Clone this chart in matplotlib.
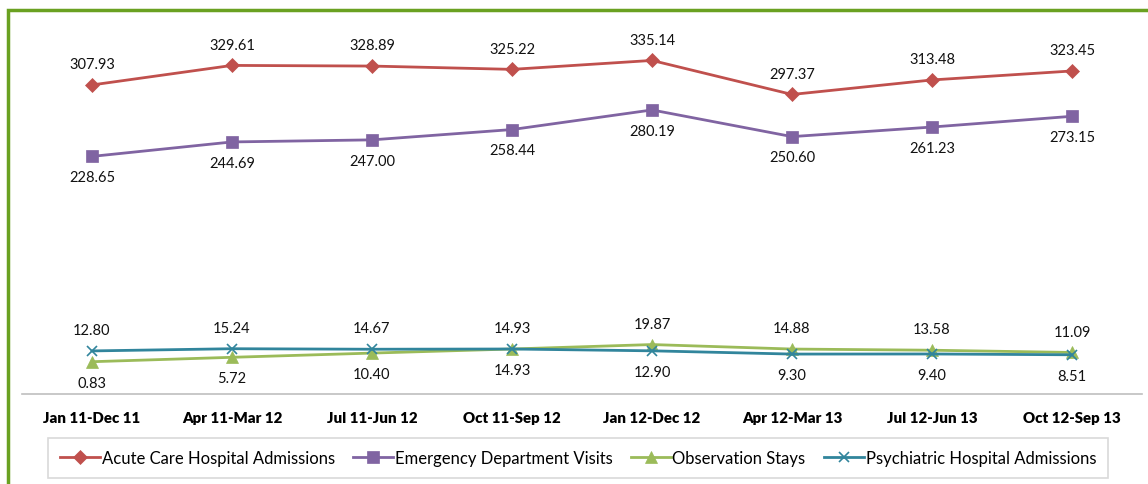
import matplotlib
matplotlib.use("Agg")
from matplotlib import pyplot as plt
from matplotlib.patches import Rectangle
import numpy as np

periods = ["Jan 11-Dec 11", "Apr 11-Mar 12", "Jul 11-Jun 12", "Oct 11-Sep 12",
           "Jan 12-Dec 12", "Apr 12-Mar 13", "Jul 12-Jun 13", "Oct 12-Sep 13"]
acute = [307.93, 329.61, 328.89, 325.22, 335.14, 297.37, 313.48, 323.45]
emergency = [228.65, 244.69, 247.00, 258.44, 280.19, 250.60, 261.23, 273.15]
observation = [0.83, 5.72, 10.40, 14.93, 19.87, 14.88, 13.58, 11.09]
psychiatric = [12.80, 15.24, 14.67, 14.93, 12.90, 9.30, 9.40, 8.51]

plt.rcParams['font.family'] = ['Lato', 'DejaVu Sans']

fig = plt.figure(figsize=(11.48, 4.85), dpi=100)
ax = fig.add_axes([22/1148, 90/485, 1120/1148, 374/485])

x = np.arange(len(periods))
series = [
    ("Acute Care Hospital Admissions", acute, "#C0504D", "D", 7),
    ("Emergency Department Visits", emergency, "#8064A2", "s", 8),
    ("Observation Stays", observation, "#9BBB59", "^", 8),
    ("Psychiatric Hospital Admissions", psychiatric, "#31859C", "x", 7),
]
for name, vals, color, marker, ms in series:
    ax.plot(x, vals, color=color, lw=2, marker=marker, ms=ms,
            mew=1.2 if marker == "x" else 0.5, mec=color, label=name)

def label(xi, v, above):
    ax.annotate(f"{v:.2f}", (xi, v), xytext=(0, 15 if above else -15),
                textcoords="offset points", ha="center", va="center",
                fontsize=10.5, color="#111111")

for i in x:
    label(i, acute[i], True)
    label(i, emergency[i], False)
    # of the two small series, the higher one gets its label on top
    obs_up = observation[i] > psychiatric[i]
    label(i, observation[i], obs_up)
    label(i, psychiatric[i], not obs_up)

ax.set_xlim(-0.5, len(periods) - 0.5)
ax.set_ylim(-35, 380)
ax.set_yticks([])
ax.set_xticks(x)
ax.set_xticklabels(periods, fontweight="heavy", fontsize=10.8)
ax.tick_params(axis="x", length=0, pad=12)
for side in ["top", "right", "left"]:
    ax.spines[side].set_visible(False)
ax.spines["bottom"].set_color("#BFBFBF")
ax.spines["bottom"].set_linewidth(1.2)

leg = fig.legend(loc="center", bbox_to_anchor=(578/1148, (485-459)/485),
                 ncol=4, fontsize=12, frameon=True, fancybox=False,
                 edgecolor="#D0D0D0", handlelength=2.4, handletextpad=0.1,
                 columnspacing=1.1, borderpad=0.7)
leg.get_frame().set_linewidth(1.2)

# green frame round the chart, cut off at the right and bottom
fig.patches.append(Rectangle((7.5/1148, -0.2), 2, (485-10.5)/485 + 0.2,
                             transform=fig.transFigure, fill=False,
                             edgecolor="#6AA121", lw=2.5))

fig.savefig("out.png", dpi=100)
